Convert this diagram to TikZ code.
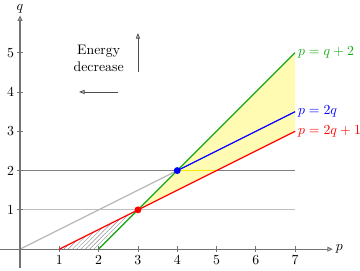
\documentclass[tikz,border=0pt]{standalone}
\usepackage{amsmath}
\usepackage{xcolor}
\usepackage{tikz}
\usetikzlibrary{arrows.meta, patterns.meta, positioning, calc}
\definecolor{lingreen}{RGB}{20,170,20}

\begin{document}
\begin{tikzpicture}[
  x=1cm, y=1cm,
  axis/.style   = {draw=black!55, line width=0.8pt,
                   -{Triangle[open, length=4pt, width=3.5pt]}},
  tick/.style   = {draw=black!55, line width=0.6pt},
  lightrule/.style = {draw=black!25, line width=0.6pt},
  darkrule/.style  = {draw=black!50, line width=0.9pt},
  guide/.style  = {draw=black!30, line width=0.8pt},
  curve/.style  = {line width=0.9pt},
  dot/.style    = {circle, inner sep=0pt, minimum size=5pt},
  arr/.style    = {draw=black!70, line width=0.6pt,
                   -{Triangle[open, length=4pt, width=3pt]}},
  lbl/.style    = {anchor=west, inner sep=2pt},
]
\useasboundingbox (-0.51,-0.53) rectangle (8.65,6.34);

%% ── Key points ───────────────────────────────────────────────────────────
\coordinate (O)  at (0,0);
\coordinate (a1) at (1,0);
\coordinate (a2) at (2,0);
\coordinate (Pr) at (3,1);
\coordinate (Pb) at (4,2);
\coordinate (P5) at (5,2);
\coordinate (g7) at (7,5);
\coordinate (b7) at (7,3.5);
\coordinate (r7) at (7,3);

%% ── Regions ──────────────────────────────────────────────────────────────
\fill[yellow!30] (Pr) -- (g7) -- (r7) -- cycle;
\fill[pattern={Lines[angle=45, distance=2.2pt, line width=0.3pt]},
      pattern color=black!45] (a1) -- (a2) -- (Pr) -- cycle;

%% ── Rules and guide ──────────────────────────────────────────────────────
\draw[lightrule] (0,1) -- (7,1);
\draw[darkrule]  (0,2) -- (7,2);
\draw[yellow!90!orange, line width=1.3pt] (Pb) -- (P5);
\draw[guide] (O) -- (Pb);

%% ── Axes ─────────────────────────────────────────────────────────────────
\coordinate (xs) at (-0.51,0);
\coordinate (xe) at (7.96,0);
\coordinate (ys) at (0,-0.48);
\coordinate (ye) at (0,5.95);
\draw[axis] (xs) -- (xe);
\draw[axis] (ys) -- (ye);
\node[right=1pt of xe, inner sep=1pt] (plbl) {$p$};
\node[above=0pt of ye, inner sep=1pt] (qlbl) {$q$};
\foreach \i in {1,...,7}
  \draw[tick] (\i,0.07) -- (\i,-0.07) node[below, inner sep=2pt] {$\i$};
\foreach \j in {1,...,5}
  \draw[tick] (0.07,\j) -- (-0.07,\j) node[left, inner sep=2pt] {$\j$};

%% ── Lines ────────────────────────────────────────────────────────────────
\draw[curve, lingreen] (a2) -- (g7);
\draw[curve, blue]     (Pb) -- (b7);
\draw[curve, red]      (a1) -- (r7);

\node[lbl, text=lingreen] (lg) at (g7) {$p = q + 2$};
\node[lbl, text=blue]     (lb) at (b7) {$p = 2q$};
\node[lbl, text=red]      (lr) at (r7) {$p = 2q + 1$};

%% ── Points ───────────────────────────────────────────────────────────────
\node[dot, fill=red]  (dr) at (Pr) {};
\node[dot, fill=blue] (db) at (Pb) {};

%% ── Energy legend ────────────────────────────────────────────────────────
\node[align=center] (energy) at (2,4.85) {Energy\\decrease};
\coordinate (up0) at (3,4.5);
\coordinate (up1) at (3,5.5);
\coordinate (lf0) at (2.5,4);
\coordinate (lf1) at (1.5,4);
\draw[arr] (up0) -- (up1);
\draw[arr] (lf0) -- (lf1);

\end{tikzpicture}
\end{document}
